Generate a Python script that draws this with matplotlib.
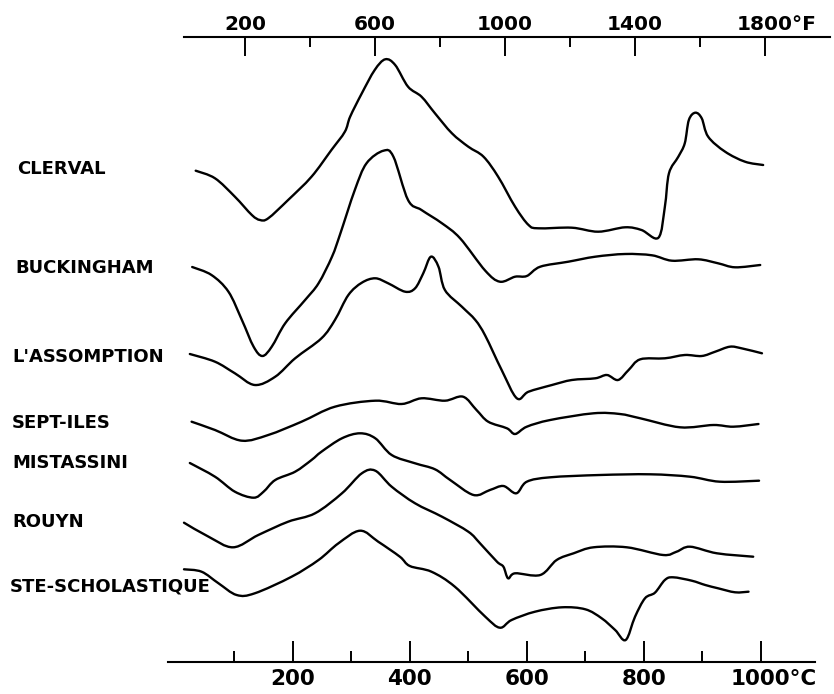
import numpy as np
import matplotlib
matplotlib.use("Agg")
import matplotlib.pyplot as plt
from matplotlib.ticker import FixedLocator
from matplotlib.path import Path
from matplotlib.patches import PathPatch

# ---------------- data (temperature in °C, deflection in arbitrary units) ----------------
samples = ["CLERVAL", "BUCKINGHAM", "L'ASSOMPTION", "SEPT-ILES",
           "MISTASSINI", "ROUYN", "STE-SCHOLASTIQUE"]
baselines = [523.3, 427.0, 340.0, 272.3, 231.0, 171.3, 124.7]
label_levels = [524.7, 425.7, 337.3, 271.3, 230.7, 172.3, 107.3]

clerval_t = [34, 67, 101, 130, 144, 158, 192, 232, 266, 289, 298, 318, 340, 358, 375, 397, 420, 443, 472, 500,
             526, 551, 580, 603, 620, 677, 722, 768, 796, 825, 836, 843, 859, 870, 877, 888, 899, 910, 939, 973, 1004]
clerval_d = [0, -7.6, -26, -44.3, -49.3, -47.6, -29.3, -6, 20.7, 39, 54, 77.4, 100.7, 111.4, 105.7, 84, 74, 57.4, 37.4, 24,
             14, -6, -36, -54.3, -57.6, -57, -61, -56.6, -59.3, -67, -36, -2.6, 14, 27.4, 50.7, 58, 52.4, 34, 19, 9, 5.7]

buck_t = [28, 61, 90, 113, 133, 148, 164, 187, 221, 244, 267, 281, 306, 326, 355, 372, 397, 420, 455, 486,
          529, 554, 580, 600, 623, 671, 717, 768, 814, 848, 893, 927, 956, 999]
buck_d = [0, -8, -24.7, -53, -79.7, -89, -79.7, -56.3, -33, -16.3, 10.3, 33, 77, 103.7, 116.3, 110.3, 67, 57, 43.7, 28.7,
          -3.7, -14.7, -9.7, -9, 0.3, 5.3, 10.3, 13, 11.7, 6.3, 7.7, 3.7, -0.3, 2]

lass_t = [24, 67, 101, 135, 170, 204, 249, 272, 295, 318, 341, 363, 392, 409, 423, 436, 449, 460, 489, 512,
          529, 557, 583, 603, 643, 677, 717, 737, 756, 774, 794, 836, 870, 899, 922, 947, 967, 1002]
lass_d = [0, -7.7, -19.3, -31, -22.7, -4.3, 15.7, 34, 59, 71.3, 75.7, 70.7, 62.3, 65.7, 80.7, 97.3, 87.3, 64, 47.3, 34,
          18.3, -16, -44.3, -37.7, -31, -26, -24.3, -21, -26, -16, -5.3, -4.3, -1, -2, 2.3, 7.3, 5.7, 0.7]

sept_t = [27, 67, 113, 158, 215, 272, 341, 386, 420, 460, 491, 514, 534, 566, 580, 600, 640, 714, 759, 794,
          862, 919, 953, 996]
sept_d = [0, -8.3, -19, -13.3, 0, 15, 21, 17.7, 23.4, 21, 25, 11.7, 0, -6.6, -12.3, -5, 1.7, 8.4, 7.7, 3.4,
          -5.6, -3.3, -5, -2.3]

mist_t = [24, 67, 101, 133, 150, 170, 204, 232, 249, 284, 315, 341, 369, 409, 443, 469, 509, 537, 560, 582,
          600, 640, 725, 811, 879, 930, 997]
mist_d = [0, -13.7, -28.7, -34.7, -28.7, -17, -8.7, 3, 11.3, 24.7, 29.7, 24.7, 8, -0.3, -6.3, -17, -32, -27, -23, -30.3,
          -18.7, -14.3, -12, -11.3, -13.7, -18.7, -17.7]

rouyn_t = [14, 56, 98, 141, 192, 238, 284, 318, 341, 369, 409, 455, 500, 520, 549, 560, 568, 580, 623, 651,
           680, 714, 771, 833, 856, 879, 925, 987]
rouyn_d = [0, -14, -24.6, -12.3, 1, 9.4, 29.4, 49.4, 52, 36, 19.4, 6, -9, -20.6, -39, -44, -55.6, -50.6, -52.3, -37.3,
           -30.6, -24.6, -24.6, -32.3, -29, -24, -30.6, -34]

ste_t = [14, 44, 73, 104, 135, 198, 244, 278, 315, 346, 383, 400, 437, 477, 529, 554, 574, 614, 660,
         700, 728, 751, 769, 785, 802, 819, 836, 850, 882, 905, 927, 956, 979]
ste_d = [0, -2.4, -14, -25.7, -24, -7.4, 9.3, 26, 38.6, 27.6, 12.6, 3.3, -2.4, -17.4, -47.4, -58.4, -50.7, -42.4, -38,
         -40, -49, -60.7, -70.7, -47.4, -29, -23.4, -10.7, -8, -11.4, -15.7, -19, -23, -22.4]

curves_t = [clerval_t, buck_t, lass_t, sept_t, mist_t, rouyn_t, ste_t]
curves_d = [clerval_d, buck_d, lass_d, sept_d, mist_d, rouyn_d, ste_d]

c_major = [200, 400, 600, 800, 1000]
c_minor = [100, 300, 500, 700, 900]
f_major = [200, 600, 1000, 1400, 1800]
f_minor = [400, 800, 1200, 1600]
F_SHIFT = 25.0  # apparent offset of the °F scale as drawn in the original


def c2f(c):
    return (np.asarray(c, dtype=float) - F_SHIFT) * 1.8 + 32


def f2c(f):
    return (np.asarray(f, dtype=float) - 32) / 1.8 + F_SHIFT


def smooth_path(x, y):
    """Bezier path through the points (Catmull-Rom tangents), drawn by matplotlib's Path."""
    p = np.column_stack([x, y]).astype(float)
    n = len(p)
    verts = [p[0]]
    codes = [Path.MOVETO]
    for i in range(n - 1):
        p0 = p[i - 1] if i > 0 else p[i]
        p1 = p[i]
        p2 = p[i + 1]
        p3 = p[i + 2] if i + 2 < n else p[i + 1]
        c1 = p1 + (p2 - p0) / 6.0
        c2 = p2 - (p3 - p1) / 6.0
        verts += [c1, c2, p2]
        codes += [Path.CURVE4, Path.CURVE4, Path.CURVE4]
    return Path(np.array(verts), codes)


# ---------------- figure ----------------
plt.rcParams['font.family'] = ['DejaVu Sans']
fig = plt.figure(figsize=(8.34, 6.94), dpi=100)
ax = fig.add_axes([0, 0.04654, 1, 0.90058])
ax.set_xlim(-300.5, 1125.1)
ax.set_ylim(32.3, 657.3)

for t, d, base in zip(curves_t, curves_d, baselines):
    yy = np.asarray(d, dtype=float) + base
    ax.add_patch(PathPatch(smooth_path(t, yy), facecolor='none', edgecolor='black',
                           lw=1.7, joinstyle='round', capstyle='round'))

label_x = [-271.5, -274.8, -280, -280, -280, -280, -283]
for name, lx, ly in zip(samples, label_x, label_levels):
    ax.text(lx, ly, name, fontsize=13, fontweight='bold', ha='left', va='center')

# axes lines
for s in ['left', 'right']:
    ax.spines[s].set_visible(False)
ax.spines['bottom'].set_bounds(-13, 1093)
ax.spines['top'].set_bounds(14, 1118)
ax.spines['bottom'].set_linewidth(1.5)
ax.spines['top'].set_linewidth(1.5)
ax.set_yticks([])

LBL_C = 15.5
LBL_F = 14.5
PAD_C = 5
PAD_F = 2

ax.xaxis.set_major_locator(FixedLocator(c_major))
ax.xaxis.set_minor_locator(FixedLocator(c_minor))
ax.set_xticklabels([str(v) for v in c_major[:-1]] + [""], fontweight='bold', fontsize=LBL_C)
ax.tick_params(axis='x', which='major', direction='in', length=14.8, width=1.4, pad=PAD_C)
ax.tick_params(axis='x', which='minor', direction='in', length=8, width=1.4)

w_c = 4 * 0.696 * LBL_C
ax.annotate(f"{c_major[-1]}°C", xy=(c_major[-1], 0), xycoords=('data', 'axes fraction'),
            xytext=(-w_c / 2, -PAD_C), textcoords='offset points',
            ha='left', va='top', fontsize=LBL_C, fontweight='bold')

sec = ax.secondary_xaxis('top', functions=(c2f, f2c))
for s in sec.spines.values():
    s.set_visible(False)
sec.xaxis.set_major_locator(FixedLocator(f_major))
sec.xaxis.set_minor_locator(FixedLocator(f_minor))
sec.set_xticklabels([str(v) for v in f_major[:-1]] + [""], fontweight='bold', fontsize=LBL_F)
sec.tick_params(axis='x', which='major', direction='in', length=13.7, width=1.4, pad=PAD_F)
sec.tick_params(axis='x', which='minor', direction='in', length=7.2, width=1.4)

w_f = 4 * 0.696 * LBL_F
ax.annotate(f"{f_major[-1]}°F", xy=(float(f2c(f_major[-1])), 1), xycoords=('data', 'axes fraction'),
            xytext=(-w_f / 2, PAD_F), textcoords='offset points',
            ha='left', va='bottom', fontsize=LBL_F, fontweight='bold')

fig.savefig("out.png", dpi=100)
